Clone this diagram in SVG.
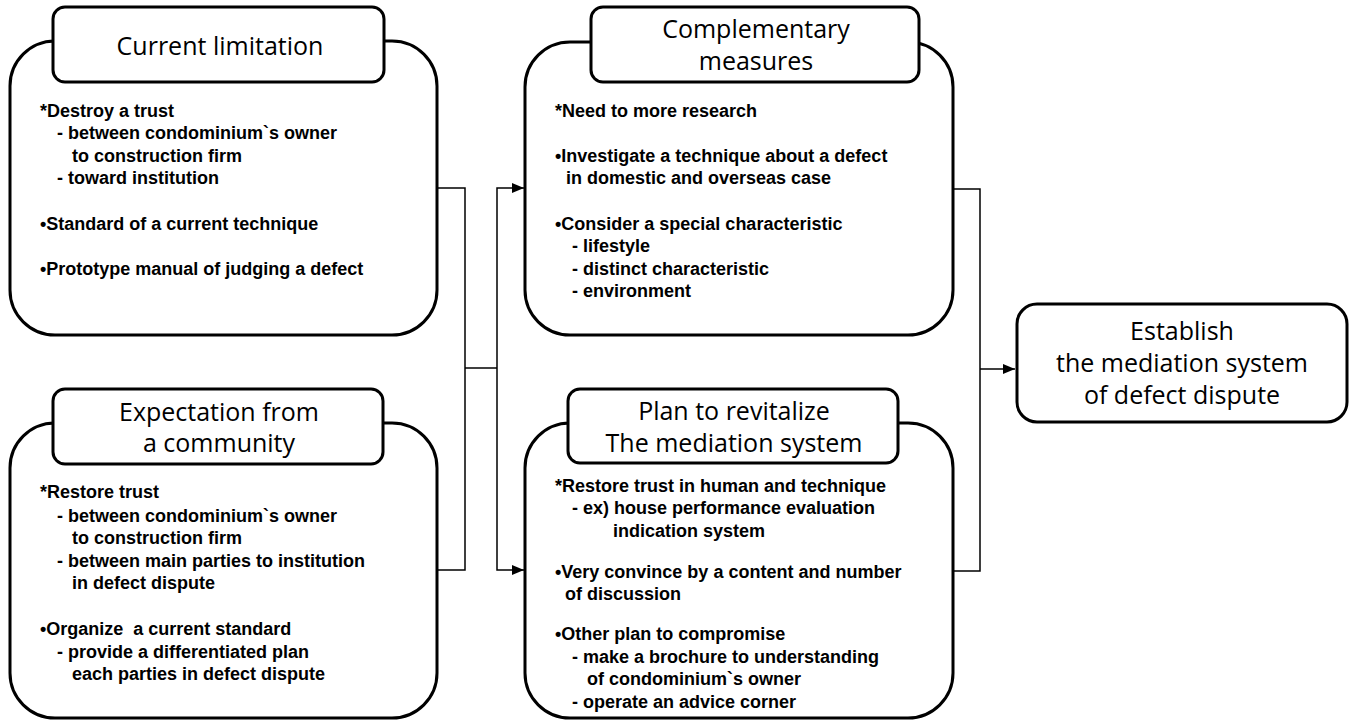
<svg xmlns="http://www.w3.org/2000/svg" width="1350" height="721" viewBox="0 0 1350 721">
<style>
.outer{fill:#fff;stroke:#000;stroke-width:3}
.head{fill:#fff;stroke:#000;stroke-width:3}
.ht{font-family:"Open Sans","Noto Sans",sans-serif;font-size:25px;fill:#000;text-anchor:middle}
.bt{font-family:"Liberation Sans",Arial,sans-serif;font-size:18px;font-weight:bold;fill:#000;white-space:pre}
.conn{fill:none;stroke:#000;stroke-width:1.5}
</style>
<defs>
<marker id="arr" markerUnits="userSpaceOnUse" markerWidth="12" markerHeight="10" refX="12" refY="5" orient="auto">
<path d="M0,0 L12,5 L0,10 Z" fill="#000"/>
</marker>
</defs>
<rect width="1350" height="721" fill="#fff"/>

<g id="connectors">
<path class="conn" d="M437,188 H465 V570 H437"/>
<path class="conn" d="M465,368 H497"/>
<path class="conn" d="M497,368 V188 H524" marker-end="url(#arr)"/>
<path class="conn" d="M497,368 V570 H524" marker-end="url(#arr)"/>
<path class="conn" d="M953,189 H980 V571 H953"/>
<path class="conn" d="M980,369 H1015" marker-end="url(#arr)"/>
</g>

<g id="current-limitation">
<rect class="outer" x="10" y="41" width="427" height="294" rx="45"/>
<rect class="head" x="53" y="7" width="331" height="75" rx="12"/>
<text class="ht" x="220" y="55">Current limitation</text>
<text class="bt" x="40" y="117">*Destroy a trust</text>
<text class="bt" x="57" y="139">- between condominium`s owner</text>
<text class="bt" x="72" y="162">to construction firm</text>
<text class="bt" x="57" y="184">- toward institution</text>
<text class="bt" x="40" y="230">•Standard of a current technique</text>
<text class="bt" x="40" y="275">•Prototype manual of judging a defect</text>
</g>

<g id="expectation">
<rect class="outer" x="10" y="423" width="427" height="295" rx="45"/>
<rect class="head" x="53" y="389" width="330" height="75" rx="12"/>
<text class="ht" x="219" y="421">Expectation from</text>
<text class="ht" x="219" y="452">a community</text>
<text class="bt" x="40" y="498">*Restore trust</text>
<text class="bt" x="57" y="522">- between condominium`s owner</text>
<text class="bt" x="72" y="544">to construction firm</text>
<text class="bt" x="57" y="567">- between main parties to institution</text>
<text class="bt" x="72" y="589">in defect dispute</text>
<text class="bt" x="40" y="635" xml:space="preserve">•Organize  a current standard</text>
<text class="bt" x="57" y="658">- provide a differentiated plan</text>
<text class="bt" x="72" y="680">each parties in defect dispute</text>
</g>

<g id="complementary">
<rect class="outer" x="525" y="42" width="428" height="293" rx="45"/>
<rect class="head" x="591" y="7" width="328" height="75" rx="12"/>
<text class="ht" x="756" y="38">Complementary</text>
<text class="ht" x="756" y="70">measures</text>
<text class="bt" x="555" y="117">*Need to more research</text>
<text class="bt" x="555" y="162">•Investigate a technique about a defect</text>
<text class="bt" x="566" y="184">in domestic and overseas case</text>
<text class="bt" x="555" y="230">•Consider a special characteristic</text>
<text class="bt" x="572" y="252">- lifestyle</text>
<text class="bt" x="572" y="275">- distinct characteristic</text>
<text class="bt" x="572" y="297">- environment</text>
</g>

<g id="plan">
<rect class="outer" x="525" y="423" width="428" height="295" rx="45"/>
<rect class="head" x="568" y="389" width="330" height="74" rx="12"/>
<text class="ht" x="734" y="420">Plan to revitalize</text>
<text class="ht" x="734" y="452">The mediation system</text>
<text class="bt" x="555" y="492">*Restore trust in human and technique</text>
<text class="bt" x="572" y="514">- ex) house performance evaluation</text>
<text class="bt" x="613" y="537">indication system</text>
<text class="bt" x="555" y="578">•Very convince by a content and number</text>
<text class="bt" x="565" y="600">of discussion</text>
<text class="bt" x="555" y="640">•Other plan to compromise</text>
<text class="bt" x="572" y="663">- make a brochure to understanding</text>
<text class="bt" x="587" y="685">of condominium`s owner</text>
<text class="bt" x="572" y="708">- operate an advice corner</text>
</g>

<g id="establish">
<rect class="outer" x="1017" y="304" width="330" height="118" rx="20"/>
<text class="ht" x="1182" y="340">Establish</text>
<text class="ht" x="1182" y="372">the mediation system</text>
<text class="ht" x="1182" y="404">of defect dispute</text>
</g>
</svg>
